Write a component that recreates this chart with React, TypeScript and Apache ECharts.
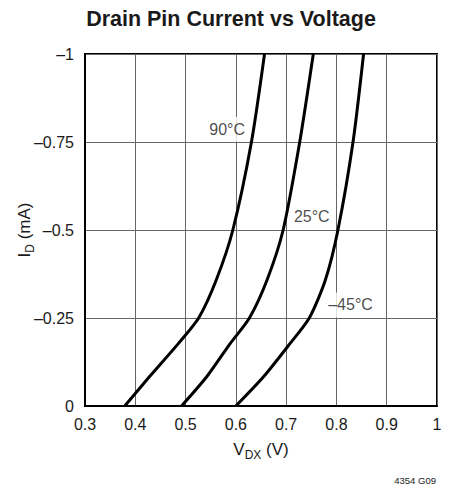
import React, { useEffect, useRef } from "react";
import * as echarts from "echarts";

const xTicks = [0.3, 0.4, 0.5, 0.6, 0.7, 0.8, 0.9, 1];
const yTicks = [0, -0.25, -0.5, -0.75, -1];

// Each curve: voltage (V) paired with current (mA)
const currentLevels = [0, -0.083, -0.178, -0.25, -0.358, -0.5, -0.75, -1];
const v90 = [0.379, 0.428, 0.486, 0.526, 0.561, 0.594, 0.631, 0.657];
const v25 = [0.492, 0.542, 0.589, 0.627, 0.662, 0.694, 0.727, 0.754];
const vM45 = [0.6, 0.655, 0.708, 0.746, 0.778, 0.803, 0.833, 0.854];

const curveNames = ["90°C", "25°C", "–45°C"];
const labelAt = [
  [0.5826, -0.786],
  [0.751, -0.538],
  [0.828, -0.287],
];

const FONT = "'Liberation Sans', Arial, sans-serif";
const TXT = "#1a1a1a";

export default function App() {
  const ref = useRef<HTMLDivElement>(null);
  useEffect(() => {
    if (!ref.current) return;
    const chart = echarts.init(ref.current, undefined, { renderer: "svg" });
    const mk = (v: number[]) => v.map((x, i) => [x, currentLevels[i]]);
    const curves = [v90, v25, vM45];
    const fmt = (v: number) => {
      const r = Math.round(v * 100) / 100;
      if (r === 0) return "0";
      return String(r).replace("-", "–");
    };
    chart.setOption({
      animation: false,
      grid: {
        left: 85,
        top: 54,
        right: 16,
        bottom: 83,
        show: true,
        borderColor: "#000",
        borderWidth: 2,
        backgroundColor: "transparent",
        outerBoundsMode: "none",
      },
      xAxis: {
        type: "value",
        min: xTicks[0],
        max: xTicks[xTicks.length - 1],
        interval: 0.1,
        axisLine: { show: true, lineStyle: { color: "#000", width: 2 } },
        axisTick: { show: false },
        splitLine: { show: true, lineStyle: { color: "#666", width: 1 } },
        axisLabel: {
          margin: 10,
          fontSize: 16,
          fontFamily: FONT,
          color: TXT,
          formatter: (v: number) => fmt(v),
        },
        name: "{a|V}{s|DX}{a| (V)}",
        nameLocation: "middle",
        nameGap: 31,
        nameMoveOverlap: false,
        nameTextStyle: {
          rich: {
            a: { fontSize: 17, fontFamily: FONT, color: TXT, lineHeight: 24 },
            s: { fontSize: 12, fontFamily: FONT, color: TXT, lineHeight: 12, verticalAlign: "bottom" },
          },
        },
      },
      yAxis: {
        type: "value",
        min: yTicks[yTicks.length - 1],
        max: yTicks[0],
        interval: 0.25,
        inverse: true,
        axisLine: { show: true, lineStyle: { color: "#000", width: 2 } },
        axisTick: { show: false },
        splitLine: { show: true, lineStyle: { color: "#666", width: 1 } },
        axisLabel: {
          margin: 11,
          fontSize: 16,
          fontFamily: FONT,
          color: TXT,
          formatter: (v: number) => fmt(v),
        },
        name: "{a|I}{s|D}{a| (mA)}",
        nameLocation: "middle",
        nameRotate: 90,
        nameGap: 49,
        nameMoveOverlap: false,
        nameTextStyle: {
          rich: {
            a: { fontSize: 17, fontFamily: FONT, color: TXT, lineHeight: 24 },
            s: { fontSize: 12, fontFamily: FONT, color: TXT, lineHeight: 12, verticalAlign: "bottom" },
          },
        },
      },
      series: [
        ...curves.map((v, k) => ({
          type: "line",
          name: curveNames[k],
          data: mk(v),
          showSymbol: false,
          symbol: "none",
          smooth: 0.25,
          lineStyle: { color: "#000", width: 3 },
          z: 3,
        })),
        {
          type: "scatter",
          symbolSize: 0,
          data: labelAt.map((p, k) => ({ value: p, name: curveNames[k] })),
          label: {
            show: true,
            position: "inside",
            formatter: (p: any) => p.name,
            fontSize: 16,
            fontFamily: FONT,
            color: TXT,
            backgroundColor: "#fff",
            padding: [4, 3, 5, 3],
          },
          z: 4,
        },
      ],
      graphic: [
        {
          type: "text",
          x: 231,
          y: 18,
          scaleY: 1.04,
          style: {
            text: "Drain Pin Current vs Voltage",
            fontFamily: FONT,
            fontWeight: "bold",
            fontSize: 21.5,
            fill: TXT,
            textAlign: "center",
            textVerticalAlign: "middle",
          },
        },
        {
          type: "text",
          x: 436,
          y: 480,
          style: {
            text: "4354 G09",
            fontFamily: FONT,
            fontSize: 9.5,
            fill: TXT,
            textAlign: "right",
            textVerticalAlign: "middle",
          },
        },
      ],
    });
    return () => chart.dispose();
  }, []);
  return (
    <div
      ref={ref}
      style={{ position: "fixed", left: 0, top: 0, width: 453, height: 489, background: "#fff" }}
    />
  );
}
